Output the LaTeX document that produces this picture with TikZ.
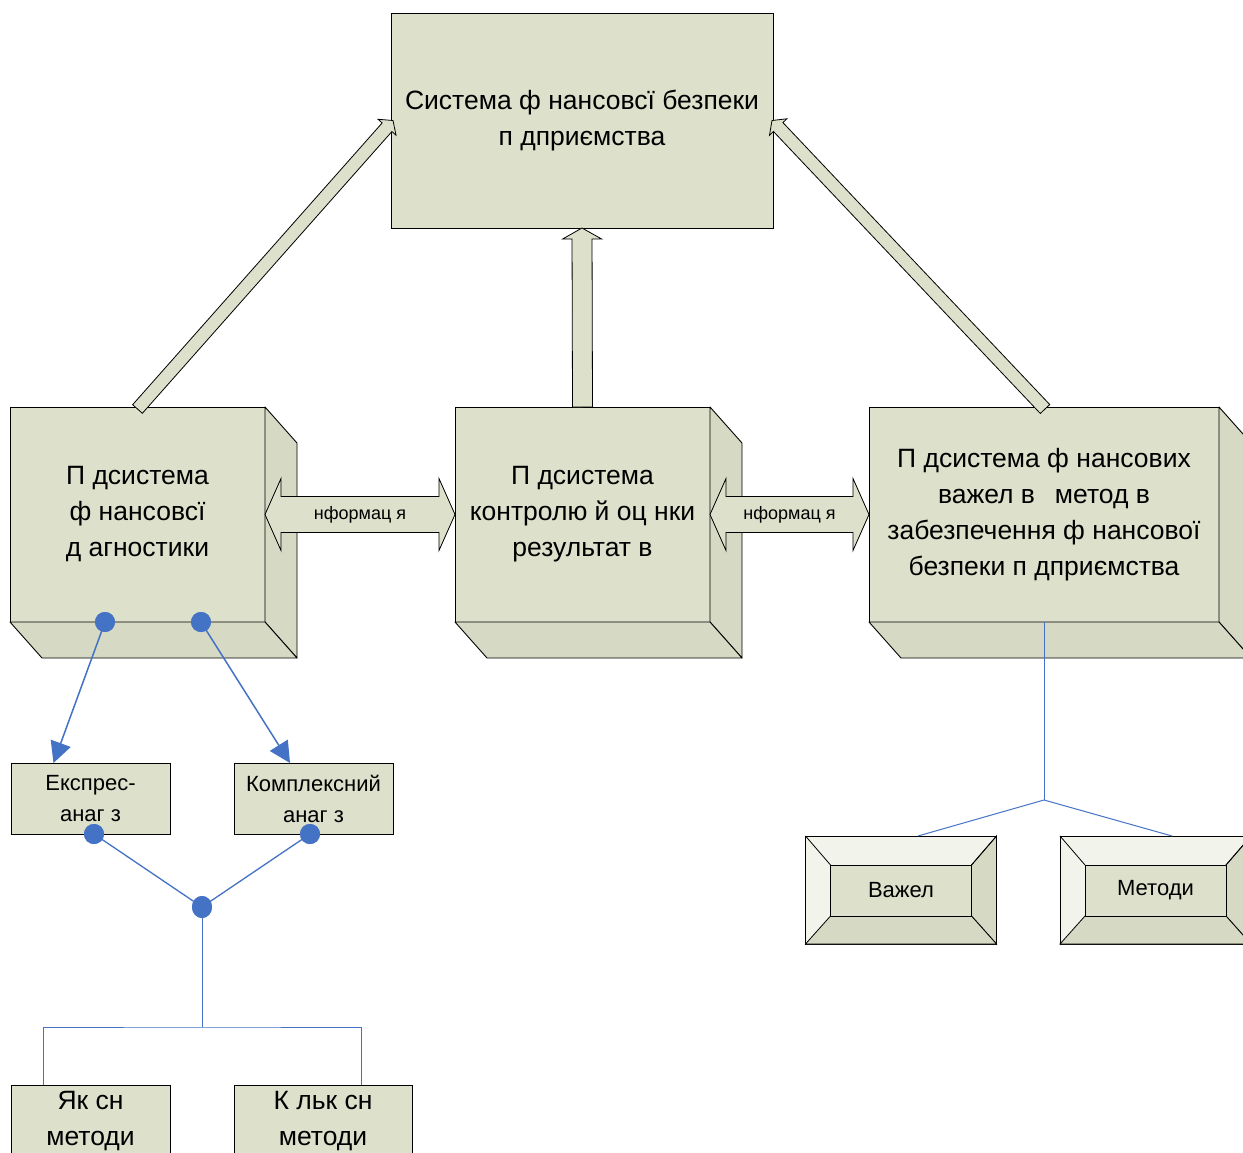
\documentclass[tikz,border=0pt]{standalone}
\usepackage{fontspec}
\setmainfont{Liberation Sans}
\usetikzlibrary{calc,arrows.meta,shapes.geometric}
\definecolor{olv}{RGB}{221,224,203}
\definecolor{olvd}{RGB}{214,218,196}
\definecolor{olvl}{RGB}{242,243,235}
\definecolor{lnk}{RGB}{68,114,196}
\newcommand{\bigfs}{\fontsize{26.5}{36}\selectfont}
\newcommand{\smfs}{\fontsize{22}{31}\selectfont}
\newcommand{\infofs}{\fontsize{18}{22}\selectfont}
\newcommand{\bevfs}{\fontsize{22}{26}\selectfont}
\newcommand{\blkarrow}[5]{%
  \coordinate (hb) at ($(#2)!#5!(#1)$);
  \draw[barrow] ($(#1)!#3!90:(#2)$) -- ($(hb)!#3!-90:(#1)$) -- ($(hb)!#4!-90:(#1)$) -- (#2) -- ($(hb)!#4!90:(#1)$) -- ($(hb)!#3!90:(#1)$) -- ($(#1)!#3!-90:(#2)$) -- cycle;
}
\newcommand{\cubefaces}[1]{%
  \draw[sideface] (#1.north east) -- ++(32,36) -- ($(#1.south east)+(32,36)$) -- (#1.south east) -- cycle;
  \draw[sideface] (#1.south west) -- (#1.south east) -- ($(#1.south east)+(32,36)$) -- ($(#1.south west)+(32,36)$) -- cycle;
}
\newcommand{\bevelfaces}[1]{%
  \coordinate (#1i1) at ($(#1.north west)+(25,29)$);
  \coordinate (#1i2) at ($(#1.north east)+(-25,29)$);
  \coordinate (#1i3) at ($(#1.south east)+(-25,-28)$);
  \coordinate (#1i4) at ($(#1.south west)+(25,-28)$);
  \draw[bevdark] (#1.north east) -- (#1.south east) -- (#1i3) -- (#1i2) -- cycle;
  \draw[bevdark] (#1.south west) -- (#1.south east) -- (#1i3) -- (#1i4) -- cycle;
  \draw[line width=0.8pt] (#1.north west) -- (#1i1) (#1.north east) -- (#1i2);
  \draw[face, line width=0.8pt] (#1i1) rectangle (#1i3);
}
\begin{document}
\begin{tikzpicture}[x=1pt,y=-1pt,
  face/.style={draw=black, fill=olv, line width=0.9pt},
  box/.style={face, rectangle, inner sep=0pt, outer sep=0pt, align=center},
  sideface/.style={draw=black, fill=olvd, line width=0.9pt, line join=round},
  lnkline/.style={draw=lnk, line width=1pt},
  lnkarrow/.style={draw=lnk, line width=1.5pt, -{Triangle[length=21pt,width=21pt]}},
  dotnode/.style={circle, fill=lnk, minimum size=20pt, inner sep=0pt, outer sep=0pt},
  eldot/.style={ellipse, fill=lnk, minimum width=20pt, minimum height=22pt, inner sep=0pt, outer sep=0pt},
  barrow/.style={draw=black, fill=olv, line width=0.8pt, line join=miter},
  bevdark/.style={draw=black, fill=olvd, line width=0.8pt},
  bevlight/.style={draw=black, fill=olvl, line width=0.8pt, rectangle, inner sep=0pt, outer sep=0pt},
]
\useasboundingbox (0,0) rectangle (1243,1153);
\fill[white] (0,0) rectangle (1243,1153);

% top box
\node[box, minimum width=382pt, minimum height=215pt, font=\bigfs] (top) at (582,120.5)
  {Система ф нансовсї безпеки\\п дприємства};

% cube boxes
\node[box, minimum width=255pt, minimum height=215pt, font=\bigfs] (diag) at (137.5,514.5)
  {П дсистема\\ф нансовсї\\д агностики};
\cubefaces{diag}
\node[box, minimum width=255pt, minimum height=215pt, font=\bigfs] (ctrl) at (582.5,514.5)
  {П дсистема\\контролю й оц нки\\результат в};
\cubefaces{ctrl}
\node[box, minimum width=350pt, minimum height=215pt, font=\bigfs] (fin) at (1044,514.5)
  {П дсистема ф нансових\\важел в\hspace{20pt}метод в\\забезпечення ф нансової\\безпеки п дприємства};
\cubefaces{fin}

% double arrows
\draw[barrow] (diag.east) -- ++(16,-36) -- ++(0,18) -- ($(ctrl.west)+(-16,-18)$) -- ++(0,-18)
  -- (ctrl.west) -- ++(-16,36) -- ++(0,-18) -- ($(diag.east)+(16,18)$) -- ++(0,18) -- cycle;
\node[font=\infofs] (info1) at ($(diag.east)!0.5!(ctrl.west)$) {нформац я};
\draw[barrow] (ctrl.east) -- ++(16,-36) -- ++(0,18) -- ($(fin.west)+(-16,-18)$) -- ++(0,-18)
  -- (fin.west) -- ++(-16,36) -- ++(0,-18) -- ($(ctrl.east)+(16,18)$) -- ++(0,18) -- cycle;
\node[font=\infofs] (info2) at ($(ctrl.east)!0.5!(fin.west)$) {нформац я};

% up arrows
\coordinate (la0) at ($(diag.north)+(0,2)$);
\coordinate (la1) at ($(top.west)+(2,0)$);
\coordinate (ra0) at ($(fin.north)+(1,2)$);
\coordinate (ra1) at ($(top.east)+(-1,0)$);
\blkarrow{la0}{la1}{6.5pt}{12pt}{9pt}
\blkarrow{ra0}{ra1}{6.5pt}{12pt}{9pt}
\blkarrow{ctrl.north}{top.south}{10pt}{19.5pt}{11pt}

% analysis boxes
\node[box, minimum width=159pt, minimum height=71pt, font=\smfs] (expr) at (90.5,798.5) {Експрес-\\анаг з};
\node[box, minimum width=159pt, minimum height=71pt, font=\smfs] (kompl) at (313.5,798.5) {Комплексний\\анаг з};

% methods boxes
\node[box, minimum width=159pt, minimum height=72pt, font=\bigfs] (yak) at (90.5,1121) {Як сн\\методи};
\node[box, minimum width=178pt, minimum height=72pt, font=\bigfs] (kil) at (323,1121) {К льк сн\\методи};

% blue links
\node[dotnode] (d1) at ($(diag.south west)+(95,0)$) {};
\node[dotnode] (d2) at ($(diag.south west)+(191,0)$) {};
\coordinate (ea) at ($(expr.north)+(-37,0)$);
\coordinate (ka) at ($(kompl.north)+(-23.5,0)$);
\draw[lnkarrow] (d1.center) -- (ea);
\draw[lnkarrow] (d2.center) -- (ka);
\node[dotnode] (d3) at ($(expr.south)+(3.5,0)$) {};
\node[dotnode] (d4) at ($(kompl.south)+(-3.5,0)$) {};
\node[eldot] (d5) at (202,907) {};
\draw[lnkline, line width=1.3pt] (d3.center) -- (d5.center) -- (d4.center);
\coordinate (j1) at (202,1027);
\draw[lnkline] (d5.center) -- (j1);
\draw[lnkline] ($(yak.north)+(-47.5,0)$) |- (j1) -| ($(kil.north)+(38,0)$);
\node[dotnode] at (d1) {};
\node[dotnode] at (d2) {};
\node[dotnode] at (d3) {};
\node[dotnode] at (d4) {};
\node[eldot] at (d5) {};

% bevel boxes
\node[bevlight, minimum width=191pt, minimum height=108pt] (vaz) at (901,890) {};
\bevelfaces{vaz}
\node[font=\bevfs] (vazt) at (vaz.center) {Важел};
\node[bevlight, minimum width=191pt, minimum height=108pt] (met) at (1155.5,890) {};
\bevelfaces{met}
\node[font=\bevfs] (mett) at (met.center) {Методи};

\coordinate (j2) at ($(fin.south)+(0,178)$);
\draw[lnkline] (fin.south) -- (j2);
\draw[lnkline] (j2) -- ($(vaz.north)+(17,0)$);
\draw[lnkline] (j2) -- ($(met.north)+(16.5,0)$);
\end{tikzpicture}
\end{document}
